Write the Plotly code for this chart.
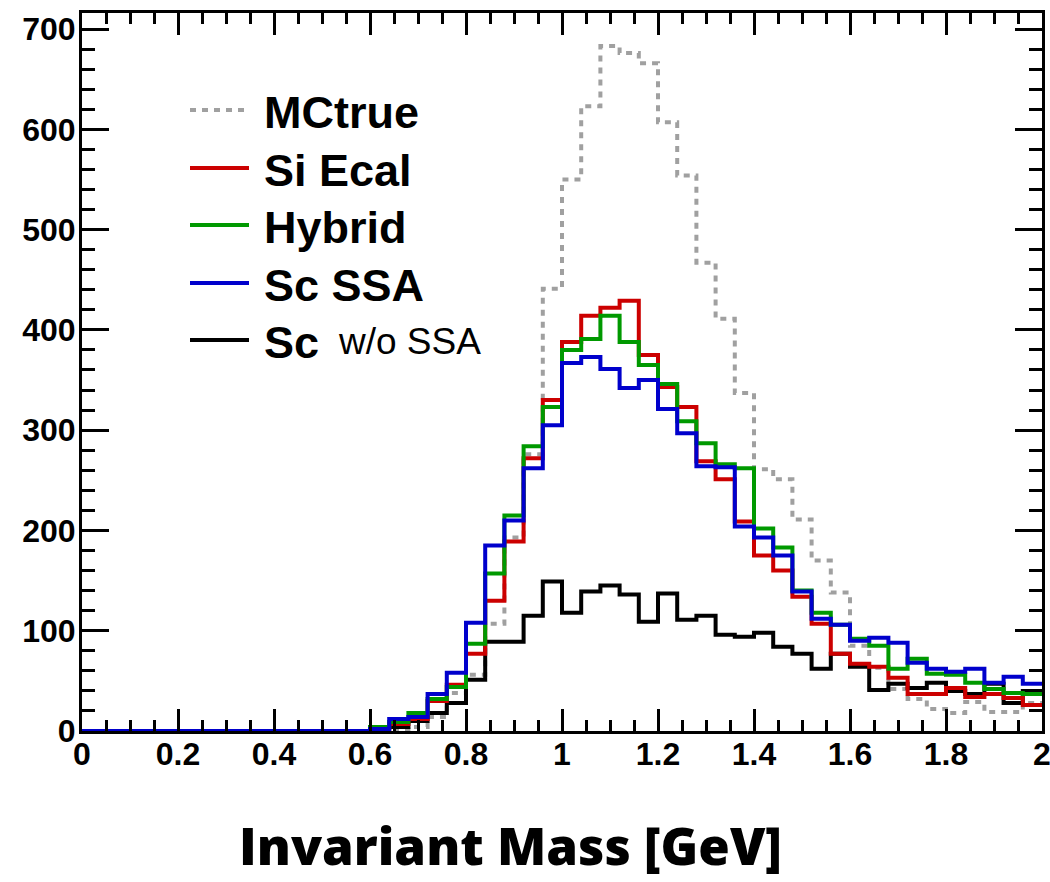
import plotly.graph_objects as go

# Histogram binning: 50 bins of 0.04 GeV from 0 to 2 GeV
bin_edges = [round(0.04 * i, 2) for i in range(51)]

# Entries per bin (bins 0.00-0.04 ... 1.96-2.00)
mc_true = [0] * 15 + [0, 1, 4, 14, 38, 56, 107, 193, 276, 441, 550, 623, 683, 676, 666,
                      607, 554, 467, 411, 337, 261, 251, 211, 170, 138, 85, 63, 42, 32, 22,
                      18, 29, 19, 19, 28]
si_ecal = [0] * 15 + [2, 7, 12, 30, 46, 77, 130, 189, 272, 330, 388, 414, 422, 429, 375,
                      343, 323, 269, 251, 209, 175, 160, 134, 107, 77, 67, 64, 53, 37, 37,
                      43, 34, 37, 33, 26]
hybrid = [0] * 15 + [4, 9, 18, 32, 44, 87, 157, 215, 284, 323, 380, 391, 414, 388, 365,
                     346, 309, 287, 266, 262, 202, 183, 140, 118, 106, 92, 85, 62, 72, 57,
                     56, 48, 42, 38, 37]
sc_ssa = [0] * 15 + [2, 12, 14, 37, 58, 108, 185, 210, 262, 305, 367, 373, 361, 342, 350,
                     321, 297, 264, 263, 204, 193, 175, 139, 112, 106, 90, 93, 88, 68, 62,
                     59, 62, 48, 54, 47]
sc_no_ssa = [0] * 15 + [3, 4, 10, 18, 28, 51, 89, 89, 115, 149, 118, 139, 145, 136, 109,
                        137, 111, 115, 96, 94, 98, 84, 77, 62, 77, 64, 41, 47, 43, 48,
                        40, 37, 47, 28, 40]

series = [
    ("MCtrue", mc_true, "#a0a0a0", "6px,6px"),
    ("Sc w/o SSA", sc_no_ssa, "#000000", "solid"),
    ("Si Ecal", si_ecal, "#cc0000", "solid"),
    ("Hybrid", hybrid, "#009900", "solid"),
    ("Sc SSA", sc_ssa, "#0000cc", "solid"),
]

fig = go.Figure()
for name, counts, color, dash in series:
    fig.add_trace(go.Scatter(
        x=bin_edges,
        y=list(counts) + [counts[-1]],
        mode="lines",
        name=name,
        line=dict(shape="hv", color=color, width=4, dash=dash),
        showlegend=False,
        hoverinfo="skip",
    ))

W, H = 1050, 882
L, R, T, B = 82, 8, 13, 151
Y_MAX = 716


def px_to_paper(px, py):
    return (px - L) / (W - L - R), (H - B - py) / (H - T - B)


# Hand-placed legend block in the upper left of the frame
legend_rows = [
    ("<b>MCtrue</b>", "#a0a0a0", "dot", 110),
    ("<b>Si Ecal</b>", "#cc0000", "solid", 168),
    ("<b>Hybrid</b>", "#009900", "solid", 225),
    ("<b>Sc SSA</b>", "#0000cc", "solid", 283),
    ("<b>Sc</b>", "#000000", "solid", 340),
]
shapes = []
annotations = []
for label, color, style, py in legend_rows:
    x0, y0 = px_to_paper(190, py)
    x1, _ = px_to_paper(249, py)
    shapes.append(dict(
        type="line", xref="paper", yref="paper", x0=x0, x1=x1, y0=y0, y1=y0,
        line=dict(color=color, width=4, dash="6px,6px" if style == "dot" else "solid"),
    ))
    tx, ty = px_to_paper(262, py + 2)
    annotations.append(dict(
        xref="paper", yref="paper", x=tx, y=ty, xanchor="left", yanchor="middle",
        text=label, showarrow=False,
        font=dict(family="Liberation Sans", size=45, color="black"),
    ))

tx, ty = px_to_paper(336, 341)
annotations.append(dict(
    xref="paper", yref="paper", x=tx, y=ty, xanchor="left", yanchor="middle",
    text="w/o SSA", showarrow=False,
    font=dict(family="Liberation Sans", size=37, color="black"),
))

# Axis title under the frame
tx, ty = px_to_paper(510, 845)
annotations.append(dict(
    xref="paper", yref="paper", x=tx, y=ty, xanchor="center", yanchor="middle",
    text="Invariant Mass [GeV]", showarrow=False,
    font=dict(family="Open Sans", size=51, color="black", weight=800),
))

tick_font = dict(family="Liberation Sans", size=32, color="black", weight="bold")

fig.update_layout(
    width=W, height=H,
    margin=dict(l=L, r=R, t=T, b=B, pad=0),
    paper_bgcolor="white", plot_bgcolor="white",
    shapes=shapes,
    annotations=annotations,
    xaxis=dict(
        range=[0, 2], tick0=0, dtick=0.2, automargin=False,
        showline=True, linewidth=3, linecolor="black", mirror="ticks",
        ticks="inside", ticklen=22, tickwidth=3, tickcolor="black",
        minor=dict(dtick=0.05, ticks="inside", ticklen=11, tickwidth=2.5, tickcolor="black"),
        showgrid=False, zeroline=False,
        tickfont=tick_font, ticklabelstandoff=-7, ticklabeloverflow="allow",
    ),
    yaxis=dict(
        range=[0, Y_MAX], tick0=0, dtick=100, automargin=False,
        showline=True, linewidth=3, linecolor="black", mirror="ticks",
        ticks="inside", ticklen=27, tickwidth=3, tickcolor="black",
        minor=dict(dtick=20, ticks="inside", ticklen=13, tickwidth=2.5, tickcolor="black"),
        showgrid=False, zeroline=False,
        tickfont=tick_font, ticklabelstandoff=-3, ticklabeloverflow="allow",
    ),
)

fig.write_html("out.html")
